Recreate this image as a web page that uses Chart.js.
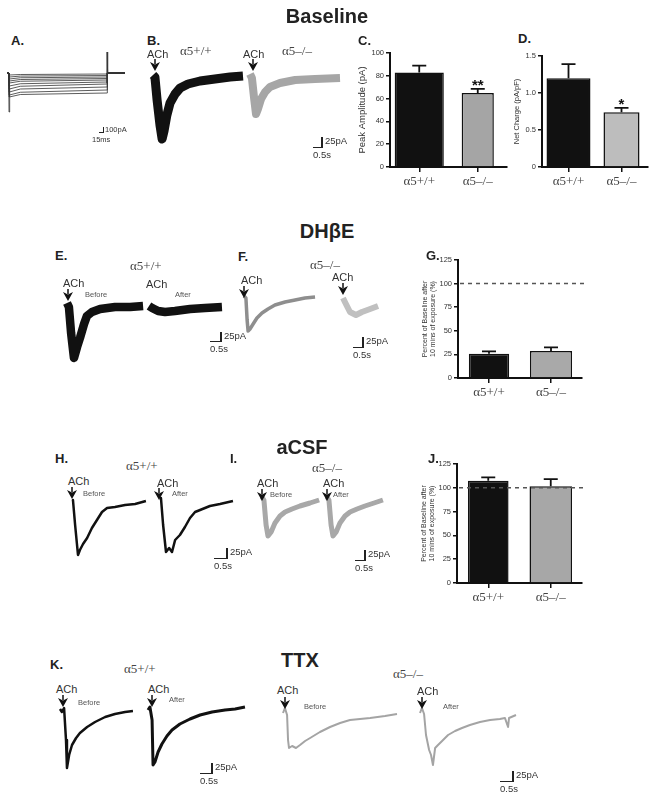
<!DOCTYPE html>
<html>
<head>
<meta charset="utf-8">
<script src="https://cdn.jsdelivr.net/npm/chart.js@4.4.1/dist/chart.umd.min.js"></script>
<style>
html, body { margin: 0; padding: 0; background: #fff; }
#fig { position: relative; width: 653px; height: 809px; overflow: hidden; font-family: 'Liberation Sans', Arial, sans-serif; color: #222; }
#fig canvas { position: absolute; }
.t { position: absolute; white-space: nowrap; line-height: 1; transform: translateY(-50%); }
.title { font-weight: bold; font-size: 20px; color: #222; transform: translate(-50%, -50%); }
.panel { font-weight: bold; font-size: 13px; }
.geno { font-family: 'Liberation Serif', 'Times New Roman', serif; font-size: 13px; color: #444; }
.ach { font-size: 11px; color: #333; }
.ba { font-size: 7.5px; color: #555; }
.sb { font-size: 9.5px; color: #333; }
.sbs { font-size: 7.5px; color: #333; }
.ln { position: absolute; background: #222; }
svg.arr { position: absolute; }
</style>
</head>
<body>
<div id="fig"></div>
<script>
// ---- bar chart data ----
const groups = ['α5+/+', 'α5–/–'];
const peakAmp = [83, 65];
const peakAmpErr = [6, 3.5];
const netCharge = [1.2, 0.74];
const netChargeErr = [0.19, 0.06];
const dhbePct = [25.7, 28.5];
const dhbeErr = [2.5, 3.9];
const acsfPct = [107.4, 101.6];
const acsfErr = [3.5, 7.6];

// ---- panel A: step family (ms, pA) ----
const aTime = [0, 6, 7, 40, 300, 301, 354];
const aStepStart = [-40, -80, -120, -160, -200, -260, -320, -380, -440, -480];
const aStepMid = [-30, -62, -95, -130, -165, -215, -265, -320, -385, -430];
const aStepEnd = [-20, -50, -80, -110, -140, -180, -220, -280, -340, -400];
const aOnT = [5, 6, 8];
const aOnI = [0, -780, -300];
const aOffT = [299, 300, 302];
const aOffI = [-200, 420, 0];

// ---- ACh currents (s, pA) ----
const bWtT = [0, 0.08, 0.17, 0.29, 0.38, 0.46, 0.58, 0.71, 0.92, 1.13, 1.46, 1.96, 2.58, 3.21, 3.75];
const bWtI = [5, 0, -57.5, -120, -155, -135, -95, -65, -42.5, -27.5, -17.5, -10, -5, 0, 2.5];
const bKoT = [0, 0.08, 0.17, 0.25, 0.33, 0.46, 0.63, 0.83, 1.25, 1.88, 2.71, 3.75];
const bKoI = [10, 0, -50, -90, -77.5, -52.5, -35, -22.5, -12.5, -5, -2.5, 0];

const eBeforeT = [0, 0.08, 0.17, 0.29, 0.42, 0.54, 0.71, 0.83, 1.04, 1.38, 2.0, 2.63, 3.17];
const eBeforeI = [10, 0, -65, -127.5, -100, -77.5, -42.5, -22.5, -12.5, -5, 0, 0, 2.5];
const eAfterT = [0, 0.13, 0.38, 0.67, 1.08, 1.71, 2.33, 3.04];
const eAfterI = [2.5, -2.5, -10, -12.5, -10, -5, -2.5, 0];
const fBeforeT = [0, 0.08, 0.13, 0.17, 0.25, 0.38, 0.54, 0.75, 1.0, 1.29, 1.71, 2.13, 2.54, 2.96];
const fBeforeI = [5, 0, -55, -82.5, -77.5, -65, -50, -37.5, -27.5, -17.5, -10, -5, 0, 2.5];
const fAfterT = [0, 0.08, 0.29, 0.54, 0.79, 1.13, 1.46];
const fAfterI = [5, -5, -30, -37.5, -30, -22.5, -15];

const hBeforeT = [0, 0.04, 0.13, 0.25, 0.33, 0.46, 0.63, 0.83, 1.04, 1.25, 1.46, 1.79, 2.21, 2.63, 3.08];
const hBeforeI = [2.5, 5, -57.5, -132.5, -120, -105, -90, -65, -45, -25, -15, -12.5, -7.5, -5, 2.5];
const hAfterT = [0, 0.04, 0.13, 0.25, 0.38, 0.5, 0.63, 0.83, 1.04, 1.25, 1.46, 1.67, 2.08, 2.5, 3.04];
const hAfterI = [5, 10, -57.5, -125, -115, -125, -95, -82.5, -62.5, -40, -25, -20, -10, -5, 2.5];
const iBeforeT = [0, 0.08, 0.17, 0.25, 0.38, 0.54, 0.75, 0.96, 1.25, 1.58, 2.0, 2.38];
const iBeforeI = [7.5, 0, -62.5, -90, -80, -57.5, -40, -30, -22.5, -15, -7.5, 0];
const iAfterT = [0, 0.08, 0.17, 0.25, 0.38, 0.54, 0.75, 0.96, 1.25, 1.58, 1.96, 2.33];
const iAfterI = [7.5, 0, -62.5, -90, -80, -57.5, -40, -30, -22.5, -15, -7.5, 0];

const kWtBeforeT = [0, 0.08, 0.17, 0.25, 0.29, 0.38, 0.5, 0.67, 0.83, 1.13, 1.46, 1.88, 2.29, 2.71, 3.04];
const kWtBeforeI = [2.5, -5, 5, -75, -145, -112.5, -87.5, -70, -57.5, -42.5, -30, -17.5, -10, -5, -2.5];
const kWtAfterT = [0, 0.08, 0.17, 0.21, 0.29, 0.42, 0.58, 0.79, 1.0, 1.33, 1.75, 2.17, 2.67, 3.21, 3.63, 4.04];
const kWtAfterI = [0, 7.5, -25, -137.5, -130, -105, -85, -65, -50, -35, -22.5, -12.5, -5, 0, 2.5, 7.5];
const kKoBeforeT = [0, 0.08, 0.17, 0.21, 0.25, 0.38, 0.54, 0.71, 0.92, 1.13, 1.54, 1.96, 2.38, 2.79, 3.21, 3.63, 4.25, 4.75];
const kKoBeforeI = [0, 12.5, -5, -67.5, -87.5, -82.5, -87.5, -80, -70, -62.5, -47.5, -35, -25, -17.5, -15, -12.5, -7.5, -2.5];
const kKoAfterT = [0, 0.08, 0.17, 0.25, 0.38, 0.46, 0.54, 0.63, 0.75, 0.92, 1.17, 1.46, 1.75, 2.08, 2.5, 2.92, 3.33, 3.54, 3.67, 3.71, 4.0];
const kKoAfterI = [0, 12.5, -2.5, -55, -92.5, -105, -130, -87.5, -80, -70, -55, -45, -37.5, -30, -22.5, -17.5, -15, -12.5, -35, -12.5, -5];

const fig = document.getElementById('fig');

function addText(str, x, y, cls) {
    const d = document.createElement('div');
    d.className = 't ' + cls;
    d.textContent = str;
    d.style.left = x + 'px';
    d.style.top = y + 'px';
    fig.appendChild(d);
}

function addLine(x, y, w, h) {
    const d = document.createElement('div');
    d.className = 'ln';
    d.style.left = x + 'px'; d.style.top = y + 'px';
    d.style.width = w + 'px'; d.style.height = h + 'px';
    fig.appendChild(d);
}

function addArrow(x, y) {
    const s = document.createElementNS('http://www.w3.org/2000/svg', 'svg');
    s.setAttribute('class', 'arr');
    s.setAttribute('width', 10); s.setAttribute('height', 12);
    s.style.left = (x - 5) + 'px'; s.style.top = y + 'px';
    s.innerHTML = '<line x1="5" y1="0" x2="5" y2="5" stroke="#111" stroke-width="1.5"/>' +
        '<polygon points="0,3 5,5.5 10,3 5,12" fill="#111"/>';
    fig.appendChild(s);
}

function scaleBar(x, y, h, w, pa, s) {
    addLine(x - 1, y - h, 1.5, h + 1);
    addLine(x - w, y - 0.5, w, 1.5);
    addText(pa, x + 3, y - h / 2 - 1, 'sb');
    addText(s, x - w, y + 8, 'sb');
}

function pts(t, v) {
    return t.map((x, i) => ({ x: x, y: v[i] }));
}

// a trace canvas: t=0 sits at px x0, 0 pA sits at px y0
function trace(tr) {
    const sx = tr.sx || 24, sy = tr.sy || 0.4;
    const sets = tr.sets || [{ t: tr.t, v: tr.v }];
    let tMax = 0, vMin = 0, vMax = 0;
    sets.forEach(s => {
        tMax = Math.max(tMax, ...s.t);
        vMin = Math.min(vMin, ...s.v);
        vMax = Math.max(vMax, ...s.v);
    });
    const pad = Math.ceil(tr.w) + 2;
    const cv = document.createElement('canvas');
    cv.width = Math.round(tMax * sx + 2 * pad);
    cv.height = Math.round((vMax - vMin) * sy + 2 * pad);
    cv.style.left = (tr.x0 - pad) + 'px';
    cv.style.top = (tr.y0 - vMax * sy - pad) + 'px';
    fig.appendChild(cv);
    const yTop = vMax + pad / sy;
    new Chart(cv, {
        type: 'line',
        data: {
            datasets: sets.map(s => ({
                data: pts(s.t, s.v),
                borderColor: tr.color,
                borderWidth: tr.w,
                pointRadius: 0,
                tension: 0,
                borderJoinStyle: 'round',
                borderCapStyle: 'butt'
            }))
        },
        options: {
            responsive: false,
            animation: false,
            events: [],
            layout: { padding: 0 },
            plugins: { legend: { display: false }, tooltip: { enabled: false } },
            scales: {
                x: { type: 'linear', display: false, min: -pad / sx, max: -pad / sx + cv.width / sx },
                y: { type: 'linear', display: false, min: yTop - cv.height / sy, max: yTop }
            }
        }
    });
}

const errorBars = {
    id: 'errorBars',
    afterDatasetsDraw(chart) {
        const ctx = chart.ctx, y = chart.scales.y;
        chart.data.datasets.forEach((ds, i) => {
            const meta = chart.getDatasetMeta(i);
            ds.data.forEach((v, j) => {
                if (v == null) return;
                const bar = meta.data[j];
                const top = y.getPixelForValue(v + ds.err);
                ctx.save();
                ctx.strokeStyle = '#111';
                ctx.lineWidth = 1.8;
                ctx.beginPath();
                ctx.moveTo(bar.x, bar.y);
                ctx.lineTo(bar.x, top);
                ctx.moveTo(bar.x - 7, top);
                ctx.lineTo(bar.x + 7, top);
                ctx.stroke();
                if (ds.star) {
                    ctx.fillStyle = '#111';
                    ctx.font = 'bold 15px "Liberation Sans", Arial';
                    ctx.textAlign = 'center';
                    ctx.textBaseline = 'alphabetic';
                    ctx.fillText(ds.star, bar.x, top + 1);
                }
                ctx.restore();
            });
        });
    }
};

const refLine = {
    id: 'refLine',
    afterDatasetsDraw(chart, args, opts) {
        if (opts.value == null) return;
        const ctx = chart.ctx, a = chart.chartArea;
        const yp = chart.scales.y.getPixelForValue(opts.value);
        ctx.save();
        ctx.strokeStyle = '#555';
        ctx.lineWidth = 1.5;
        ctx.setLineDash([4, 4]);
        ctx.beginPath();
        ctx.moveTo(a.left + 2, yp);
        ctx.lineTo(a.right + 4, yp);
        ctx.stroke();
        ctx.restore();
    }
};

function bars(o) {
    const cv = document.createElement('canvas');
    cv.width = o.w; cv.height = o.h;
    cv.style.left = o.left + 'px'; cv.style.top = o.top + 'px';
    fig.appendChild(cv);
    new Chart(cv, {
        type: 'bar',
        data: {
            labels: groups,
            datasets: o.vals.map((v, i) => ({
                data: groups.map((g, j) => (j === i ? v : null)),
                err: o.errs[i],
                star: o.stars ? o.stars[i] : '',
                backgroundColor: o.colors[i],
                borderColor: '#111',
                borderWidth: 1.5,
                barPercentage: o.bp[i],
                categoryPercentage: 1,
                grouped: false
            }))
        },
        options: {
            responsive: false,
            animation: false,
            events: [],
            layout: { padding: { top: o.padTop, right: o.padRight, left: 0, bottom: 0 } },
            plugins: { legend: { display: false }, tooltip: { enabled: false }, refLine: { value: o.ref } },
            scales: {
                x: {
                    grid: { display: true, offset: false, drawOnChartArea: false, tickLength: 5, color: '#111', lineWidth: 1.5 },
                    border: { color: '#111', width: 2 },
                    ticks: { font: { family: "'Liberation Serif', 'Times New Roman', serif", size: 13 }, color: '#444', padding: 2, maxRotation: 0 },
                    afterFit: s => { s.height = o.xh; }
                },
                y: {
                    min: 0, max: o.max,
                    ticks: { stepSize: o.step, font: { family: "'Liberation Sans', Arial", size: 7.5 }, color: '#333', padding: 2, callback: o.fmt },
                    grid: { drawOnChartArea: false, tickLength: 4, color: '#111', lineWidth: 1.5 },
                    border: { color: '#111', width: 2 },
                    title: { display: true, text: o.title, font: { family: "'Liberation Sans', Arial", size: o.tsize, lineHeight: 1.15 }, color: '#333', padding: { top: 2, bottom: 2 } },
                    afterFit: s => { s.width = o.yw; }
                }
            }
        },
        plugins: [errorBars, refLine]
    });
}

// ---- bar panels ----
bars({ left: 355, top: 45, w: 156, h: 148, yw: 35, xh: 26, padTop: 8, padRight: 4,
    vals: peakAmp, errs: peakAmpErr, stars: ['', '**'], colors: ['#111', '#a5a5a5'], bp: [0.84, 0.55],
    max: 100, step: 20, title: 'Peak Amplitude (pA)', tsize: 9.5 });
bars({ left: 511, top: 48, w: 141, h: 145, yw: 31, xh: 26, padTop: 8, padRight: 4,
    vals: netCharge, errs: netChargeErr, stars: ['', '*'], colors: ['#111', '#bdbdbd'], bp: [0.83, 0.68],
    max: 1.5, step: 0.5, title: 'Net Charge (pA/pF)', tsize: 7.5,
    fmt: v => (v === 0 ? '0' : v.toFixed(1)) });
bars({ left: 419, top: 252, w: 171, h: 152, yw: 39, xh: 26, padTop: 8, padRight: 8,
    vals: dhbePct, errs: dhbeErr, colors: ['#111', '#a9a9a9'], bp: [0.65, 0.68], ref: 100,
    max: 125, step: 25, title: ['Percent of Baseline after', '10 mins of exposure (%)'], tsize: 7 });
bars({ left: 418, top: 456, w: 172, h: 153, yw: 39, xh: 26, padTop: 8, padRight: 8,
    vals: acsfPct, errs: acsfErr, colors: ['#111', '#a7a7a7'], bp: [0.65, 0.68], ref: 100,
    max: 125, step: 25, title: ['Percent of Baseline after', '10 mins of exposure (%)'], tsize: 7 });

// ---- panel A ----
const aSets = aStepStart.map((s, k) => ({ t: aTime, v: [0, 0, s, aStepMid[k], aStepEnd[k], 0, 0] }));
aSets.push({ t: aOnT, v: aOnI }, { t: aOffT, v: aOffI });
trace({ sets: aSets, x0: 7, y0: 73, sx: 1 / 3, sy: 0.05, color: '#333', w: 0.8 });

// ---- current traces ----
trace({ t: bWtT, v: bWtI, x0: 153, y0: 77, color: '#111', w: 9 });
trace({ t: bKoT, v: bKoI, x0: 250, y0: 78, color: '#a6a6a6', w: 8 });
trace({ t: eBeforeT, v: eBeforeI, x0: 67, y0: 307, color: '#111', w: 8.5 });
trace({ t: eAfterT, v: eAfterI, x0: 149, y0: 307, color: '#111', w: 8.5 });
trace({ t: fBeforeT, v: fBeforeI, x0: 244, y0: 298, color: '#8e8e8e', w: 3.5 });
trace({ t: fAfterT, v: fAfterI, x0: 343, y0: 300, color: '#c0c0c0', w: 6 });
trace({ t: hBeforeT, v: hBeforeI, x0: 72, y0: 502, color: '#111', w: 2.5 });
trace({ t: hAfterT, v: hAfterI, x0: 160, y0: 502, color: '#111', w: 2.5 });
trace({ t: iBeforeT, v: iBeforeI, x0: 262, y0: 500, color: '#a8a8a8', w: 5 });
trace({ t: iAfterT, v: iAfterI, x0: 327, y0: 500, color: '#a8a8a8', w: 5 });
trace({ t: kWtBeforeT, v: kWtBeforeI, x0: 60, y0: 710, color: '#111', w: 2.5 });
trace({ t: kWtAfterT, v: kWtAfterI, x0: 148, y0: 710, color: '#111', w: 3 });
trace({ t: kKoBeforeT, v: kKoBeforeI, x0: 283, y0: 713, color: '#a4a4a4', w: 2 });
trace({ t: kKoAfterT, v: kKoAfterI, x0: 420, y0: 713, color: '#a4a4a4', w: 2 });

// ---- text ----
[['Baseline', 327, 16], ['DHβE', 327, 231], ['aCSF', 302, 447], ['TTX', 300, 660]]
    .forEach(a => addText(a[0], a[1], a[2], 'title'));
[['A.', 11, 40], ['B.', 147, 40], ['C.', 358, 40], ['D.', 518, 38], ['E.', 55, 255], ['F.', 238, 256],
 ['G.', 426, 255], ['H.', 55, 458], ['I.', 230, 458], ['J.', 428, 458], ['K.', 50, 664]]
    .forEach(a => addText(a[0], a[1], a[2], 'panel'));
[['α5+/+', 180, 50], ['α5–/–', 282, 50], ['α5+/+', 130, 265], ['α5–/–', 310, 264], ['α5+/+', 126, 465],
 ['α5–/–', 312, 467], ['α5+/+', 124, 668], ['α5–/–', 393, 673]]
    .forEach(a => addText(a[0], a[1], a[2], 'geno'));
[[147, 54], [243, 54], [63, 283], [146, 284], [241, 280], [332, 277], [68, 481], [157, 483],
 [257, 483], [323, 483], [56, 689], [148, 689], [277, 690], [417, 691]]
    .forEach(a => addText('ACh', a[0], a[1], 'ach'));
[[155, 59], [253, 59], [68, 289], [244, 286], [343, 283], [72, 487], [159, 488], [262, 489],
 [327, 489], [63, 695], [152, 695], [285, 697], [422, 697]]
    .forEach(a => addArrow(a[0], a[1]));
[['Before', 85, 295], ['After', 175, 295], ['Before', 83, 494], ['After', 172, 494], ['Before', 270, 495],
 ['After', 333, 495], ['Before', 78, 703], ['After', 169, 700], ['Before', 304, 707], ['After', 443, 707]]
    .forEach(a => addText(a[0], a[1], a[2], 'ba'));

// scale bars
addLine(103, 127, 1, 6);
addLine(99, 132, 5, 1);
addText('100pA', 105, 130, 'sbs');
addText('15ms', 92, 140, 'sbs');
scaleBar(322, 147, 10, 9, '25pA', '0.5s');
scaleBar(221, 341, 9, 11, '25pA', '0.5s');
scaleBar(363, 347, 10, 10, '25pA', '0.5s');
scaleBar(227, 558, 10, 13, '25pA', '0.5s');
scaleBar(365, 560, 10, 10, '25pA', '0.5s');
scaleBar(212, 773, 10, 12, '25pA', '0.5s');
scaleBar(513, 781, 10, 13, '25pA', '0.5s');
</script>
</body>
</html>
